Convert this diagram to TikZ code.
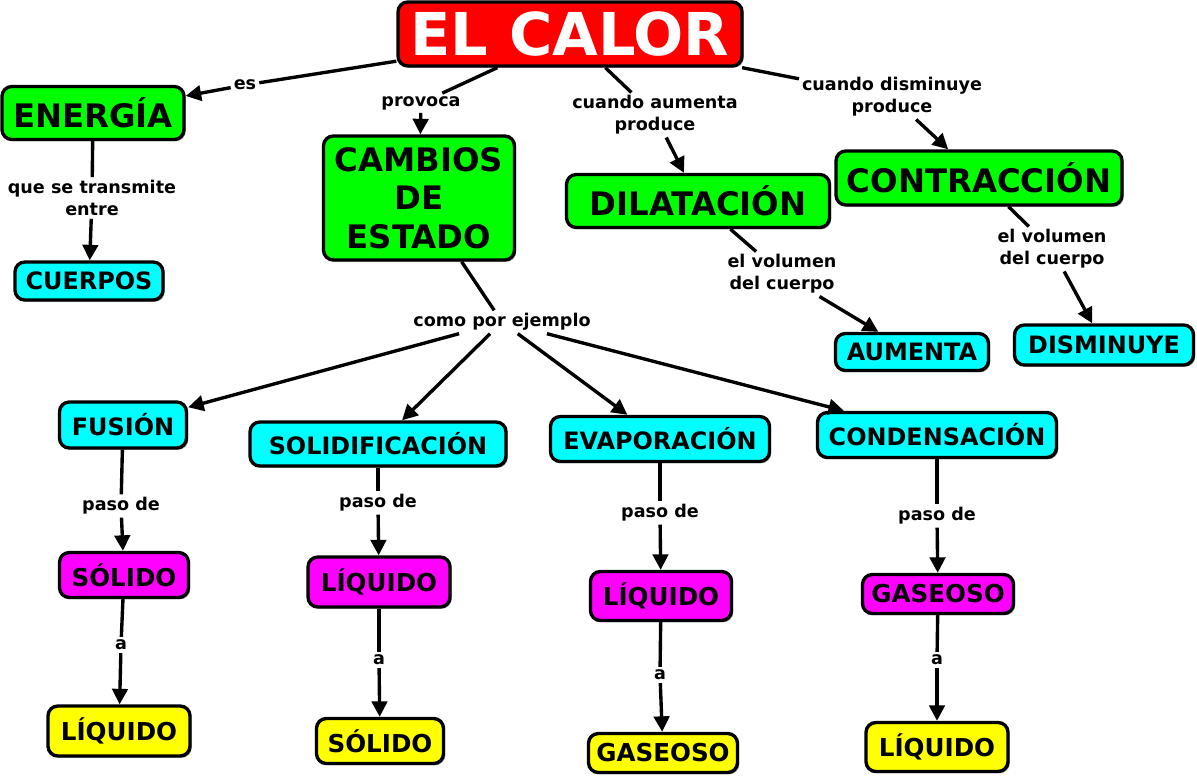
\documentclass[tikz,border=0pt]{standalone}
\usepackage{fontspec}
\setmainfont{DejaVu Sans}
\usetikzlibrary{arrows.meta,shadows}
\definecolor{Rojo}{HTML}{FF0000}
\definecolor{Verde}{HTML}{00FF00}
\definecolor{Cian}{HTML}{00FFFF}
\definecolor{Magenta}{HTML}{FF00FF}
\definecolor{Amarillo}{HTML}{FFFF00}

\begin{document}
\begin{tikzpicture}[x=0.025cm,y=-0.025cm,
    box/.style={draw=black, line width=2.4pt, rounded corners=7pt, inner sep=0pt,
      align=center, drop shadow={shadow xshift=1.2pt, shadow yshift=-1.2pt, fill=black!40, opacity=1}},
    sz/.style 2 args={minimum width=#1*0.025cm, minimum height=#2*0.025cm},
    titulo/.style={box, fill=Rojo, text=white, font=\fontsize{42}{46}\selectfont\bfseries},
    grande/.style={box, fill=Verde, font=\fontsize{23}{27.5}\selectfont\bfseries},
    medio/.style={box, fill=Cian, font=\fontsize{17}{20}\selectfont\bfseries},
    desde/.style={box, fill=Magenta, font=\fontsize{17.5}{20}\selectfont\bfseries},
    hasta/.style={box, fill=Amarillo, font=\fontsize{17.5}{20}\selectfont\bfseries},
    enlace/.style={inner sep=2pt, align=center, font=\fontsize{12.5}{15.5}\selectfont\bfseries},
    linea/.style={line width=2.4pt},
    flecha/.style={line width=2.4pt, -{Triangle[length=11pt,width=11pt]}}]
  \useasboundingbox (0,0) rectangle (1197,776);

  % conceptos
  \node[titulo, sz={344}{64}] (calor) at (570,34) {EL CALOR};
  \node[grande, sz={182}{53}] (energia) at (93,113) {ENERGÍA};
  \node[grande, sz={191}{124}] (cambios) at (419,198) {CAMBIOS\\DE\\ESTADO};
  \node[grande, sz={263}{53}] (dilatacion) at (698,201) {DILATACIÓN};
  \node[grande, sz={286}{54}] (contraccion) at (979,178) {CONTRACCIÓN};
  \node[medio, sz={148}{38}] (cuerpos) at (89,281) {CUERPOS};
  \node[medio, sz={153}{37}] (aumenta) at (912,352) {AUMENTA};
  \node[medio, sz={179}{40}] (disminuye) at (1104,345) {DISMINUYE};
  \node[medio, sz={127}{46}] (fusion) at (123,425) {FUSIÓN};
  \node[medio, sz={256}{44}] (solidif) at (378,444) {SOLIDIFICACIÓN};
  \node[medio, sz={219}{45}] (evapor) at (660,439) {EVAPORACIÓN};
  \node[medio, sz={239}{45}] (condens) at (937,435) {CONDENSACIÓN};
  \node[desde, sz={129}{45}] (desdeA) at (124,575) {SÓLIDO};
  \node[desde, sz={142}{50}] (desdeB) at (379,582) {LÍQUIDO};
  \node[desde, sz={141}{49}] (desdeC) at (661,596) {LÍQUIDO};
  \node[desde, sz={151}{39}] (desdeD) at (938,594) {GASEOSO};
  \node[hasta, sz={142}{50}] (hastaA) at (119,731) {LÍQUIDO};
  \node[hasta, sz={127}{45}] (hastaB) at (380,741) {SÓLIDO};
  \node[hasta, sz={149}{39}] (hastaC) at (663,753) {GASEOSO};
  \node[hasta, sz={142}{49}] (hastaD) at (937,747) {LÍQUIDO};

  % frases de enlace
  \node[enlace] (es) at (245,85) {es};
  \node[enlace] (provoca) at (421,103) {provoca};
  \node[enlace] (aumprod) at (655,115) {cuando aumenta\\produce};
  \node[enlace] (dismprod) at (892,97) {cuando disminuye\\produce};
  \node[enlace] (transm) at (92,198) {que se transmite\\entre};
  \node[enlace] (volA) at (782,274) {el volumen\\del cuerpo};
  \node[enlace] (volB) at (1052,249) {el volumen\\del cuerpo};
  \node[enlace] (ejemplo) at (502,322) {como por ejemplo};
  \node[enlace] (pasoA) at (121,506) {paso de};
  \node[enlace] (pasoB) at (378,503) {paso de};
  \node[enlace] (pasoC) at (660,513) {paso de};
  \node[enlace] (pasoD) at (937,516) {paso de};
  \node[enlace] (aA) at (121,645) {a};
  \node[enlace] (aB) at (379,660) {a};
  \node[enlace] (aC) at (660,675) {a};
  \node[enlace] (aD) at (937,660) {a};

  % conexiones
  \foreach \a/\b in {calor/es, calor/provoca, calor/aumprod, calor/dismprod,
      energia/transm, dilatacion/volA, contraccion/volB, cambios/ejemplo,
      fusion/pasoA, solidif/pasoB, evapor/pasoC, condens/pasoD,
      desdeA/aA, desdeB/aB, desdeC/aC, desdeD/aD}
    \draw[linea] (\a) -- (\b);
  \foreach \a/\b in {es/energia, provoca/cambios, aumprod/dilatacion, dismprod/contraccion,
      transm/cuerpos, volA/aumenta, volB/disminuye,
      ejemplo/fusion, ejemplo/solidif, ejemplo/evapor, ejemplo/condens,
      pasoA/desdeA, pasoB/desdeB, pasoC/desdeC, pasoD/desdeD,
      aA/hastaA, aB/hastaB, aC/hastaC, aD/hastaD}
    \draw[flecha] (\a) -- (\b);
\end{tikzpicture}
\end{document}
